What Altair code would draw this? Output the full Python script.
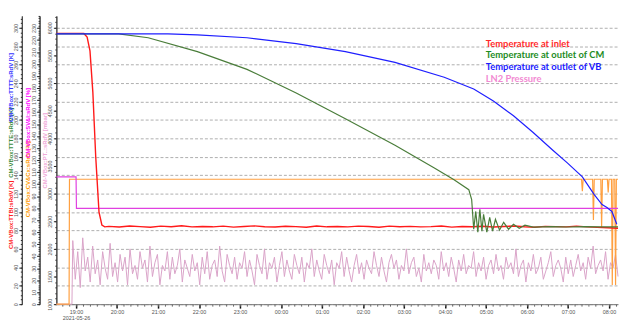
import altair as alt
import pandas as pd
import numpy as np

# time axis: hours since 2021-05-26 00:00 (24 = 00:00 next day)
X_DOMAIN = [18.52, 32.22]
hour_ticks = list(range(19, 33))

# ---- Temperature at inlet [K]
red_t = [18.52, 19.19, 19.27, 19.34, 19.41, 19.48, 19.56, 19.63, 19.70]
red_v = [294, 294, 290, 275, 230, 160, 100, 86, 84]
red_noise = [84.5, 83.8, 84.9, 84.2, 83.6, 84.7, 84.1, 85.2, 83.9, 84.4,
             84.0, 84.8, 83.7, 84.3, 85.0, 84.1, 83.8, 84.6, 84.2, 83.5,
             84.9, 84.0, 84.4, 83.9, 84.7, 84.3, 83.6, 84.8, 84.1, 84.5,
             83.9, 84.2, 84.9, 83.7, 84.4, 84.0, 84.6, 83.8, 84.3, 84.9,
             84.1, 83.6, 84.5, 84.2, 83.9, 84.7, 84.0, 83.4, 83.0, 82.5]

# ---- Temperature at outlet of CM [K]
green_t = [18.52, 20.04, 20.76, 21.96, 23.17, 24.37, 25.57, 26.78, 27.74, 28.22,
           28.58, 28.65, 28.70, 28.75, 28.80, 28.85, 28.90, 28.94, 29.02, 29.09,
           29.16, 29.23, 29.33, 29.43, 29.55, 29.67, 29.81, 29.95, 30.15, 30.6,
           31.0, 31.4, 31.8, 32.22]
green_v = [293.6, 293.6, 289.3, 274.3, 255.0, 229.3, 201.4, 172.5, 147.9, 135.0,
           124.3, 113.6, 81.4, 100.7, 78.2, 102.9, 79.3, 97.5, 78.2, 94.3,
           79.3, 92.1, 80.4, 88.9, 81.4, 86.8, 82.5, 85.7, 83.6, 84.2,
           83.8, 84.3, 83.9, 84.0]

# ---- Temperature at outlet of VB [K]
blue_t = [18.52, 21.24, 21.96, 23.17, 24.37, 25.57, 26.78, 27.98, 28.70, 29.18,
          29.67, 30.15, 30.63, 30.99, 31.35, 31.64, 31.83, 31.95, 32.07, 32.19]
blue_v = [293.6, 293.6, 292.5, 289.3, 282.9, 274.3, 262.5, 246.4, 233.6, 220.7,
          204.6, 186.4, 167.1, 153.2, 138.2, 118.9, 108.2, 105.0, 100.7, 86.8]

# ---- Valve positions [%]
orange_t = [18.52, 18.83, 18.84, 31.33, 31.35, 31.37, 31.60, 31.62, 31.64, 31.80,
            31.82, 31.84, 31.96, 31.98, 32.00, 32.06, 32.08, 32.10, 32.14, 32.16,
            32.18, 32.22]
orange_v = [0, 0, 104, 104, 94, 104, 104, 70, 104, 104,
            64, 104, 104, 93, 104, 104, 16, 104, 104, 16,
            104, 104]
magenta_t = [18.52, 19.00, 19.01, 32.22]
magenta_v = [106, 106, 79.7, 79.7]

# ---- LN2 Pressure [mbar]
pink_start_t = [18.52, 18.90]
pink_start_v = [1000, 1000]
pink_noise = [
    2150, 1450, 1950, 1300, 2200, 1600, 1850, 1400, 2050, 1550,
    1800, 1350, 1950, 1650, 1450, 2100, 1500, 1750, 1400, 1900,
    1600, 1850, 1350, 2000, 1550, 1700, 1450, 1950, 1650, 1800,
    1400, 2050, 1500, 1750, 1900, 1350, 1700, 1600, 1950, 1450,
    1850, 1550, 1700, 2000, 1400, 1800, 1650, 1500, 1900, 1600,
    1750, 1350, 1850, 1550, 1950, 1450, 1700, 1800, 1500, 2050,
    1600, 1400, 1900, 1700, 1550, 1850, 1450, 1750, 1650, 1950,
    1500, 1800, 1600, 1350, 1900, 1700, 1550, 2000, 1450, 1750,
    1650, 1850, 1400, 1700, 1950, 1500, 1800, 1600, 1450, 1900,
    1700, 1550, 1850, 1400, 1750, 1650, 2000, 1500, 1800, 1600,
    1450, 1900, 1700, 1550, 1800, 1350, 1750, 1650, 1950, 1500,
    1850, 1600, 1400, 1700, 1900, 1550, 1750, 1450, 1800, 1650,
    1550, 1950, 1700, 1500, 1850, 1600, 1400, 1750, 1900, 1650,
    1800, 1450, 1700, 1600, 2000, 1550, 1750, 1850, 1500, 1650,
    1400, 1900, 1600, 1750, 1550, 1800, 1700, 1450, 1950, 1600,
    1750, 1500, 1850, 1650, 1400, 1800, 1600, 1900, 1550, 1700,
    1650, 1950, 1500, 1750, 1600, 1850, 1450, 1700, 1800, 1550,
    1900, 1600, 1700, 1450, 1850, 1650, 1750, 1550, 2000, 1500,
    1700, 1800, 1400, 1750, 1600, 1900, 1550, 1650, 1850, 1450,
    1600, 1750, 1950, 1500, 1700, 1800, 1650, 1400, 1850, 1550,
    1800, 1500, 1700, 1900, 1600, 1750, 1450, 1850, 1650, 2050,
    1550, 1700, 1800, 1600, 1950, 1450, 1750, 1650, 1900, 1500,
]

legend_labels = ["Temperature at inlet", "Temperature at outlet of CM",
                 "Temperature at outlet of VB", "LN2 Pressure"]
legend_colors = ["#ff2a2a", "#1e8c1e", "#1a1aff", "#f28ad2"]

# ---------- tables ----------
red_df = pd.DataFrame({"t": red_t + list(np.linspace(19.8, 32.22, len(red_noise))),
                       "v": red_v + red_noise})
green_df = pd.DataFrame({"t": green_t, "v": green_v})
blue_df = pd.DataFrame({"t": blue_t, "v": blue_v})
orange_df = pd.DataFrame({"t": orange_t, "v": orange_v})
magenta_df = pd.DataFrame({"t": magenta_t, "v": magenta_v})
pink_df = pd.DataFrame({"t": pink_start_t + list(np.linspace(18.92, 32.22, len(pink_noise))),
                        "v": pink_start_v + pink_noise})
legend_df = pd.DataFrame({"label": legend_labels, "color": legend_colors})

FONT = "Liberation Sans"
xscale = alt.Scale(domain=X_DOMAIN, nice=False, zero=False)
x_main = alt.X("t:Q", scale=xscale, axis=alt.Axis(
    values=hour_ticks, title=None, grid=False,
    labelExpr="datum.value == 19 ? ['19:00', '2021-05-26'] : ((datum.value % 24) < 10 ? '0' : '') + (datum.value % 24) + ':00'",
    labelFontSize=5.5, labelColor="#555", labelFont=FONT, labelPadding=1, labelLineHeight=6.5,
    tickSize=4, tickWidth=1.5, tickColor="#111", domainColor="#777", orient="bottom"))
x_none = alt.X("t:Q", scale=xscale, axis=None)
x_minor = alt.X("t:Q", scale=xscale, axis=alt.Axis(
    values=[19 + i / 6 for i in range(-2, 80)], labels=False, title=None, grid=False,
    tickSize=2, tickColor="#666", domain=False, orient="bottom"))

K_SCALE = alt.Scale(domain=[0, 313], nice=False, zero=False)
P_SCALE = alt.Scale(domain=[0, 240], nice=False, zero=False)
M_SCALE = alt.Scale(domain=[1000, 6214], nice=False, zero=False)

def yaxis(offset, title, color, ty, tx=-13, values=None, labels=True, ticks=True, tick_size=3,
          domain=True, grid=False):
    kw = dict(orient="left", offset=offset, title=title, titleColor=color, titleFontSize=6,
              titleFont=FONT, titleFontWeight="bold", titleAngle=270, titleX=tx, titleY=ty,
              titleAlign="center", titleBaseline="middle",
              labels=labels, ticks=ticks, domain=domain, grid=grid, format="d",
              labelAngle=270, labelAlign="center", labelBaseline="bottom",
              labelFontSize=5.5, labelColor="#555", labelFont=FONT, labelPadding=0.5,
              tickSize=tick_size, tickColor="#222", tickWidth=1, domainColor="#444")
    if values is not None:
        kw["values"] = values
    if grid:
        kw.update(gridDash=[3, 2], gridColor="#9a9a9a", gridWidth=0.8)
    return alt.Axis(**kw)

red = alt.Chart(red_df).mark_line(color="#ff1a1a", strokeWidth=1.4).encode(
    x=x_main,
    y=alt.Y("v:Q", scale=K_SCALE,
            axis=yaxis(35, "CM-VBox:TTBI:sRdV [K]", "#ff2020", 201, tx=-11,
                       values=list(range(0, 301, 20)), grid=True)))
green = alt.Chart(green_df).mark_line(color="#4a7d3a", strokeWidth=1.2).encode(
    x=x_minor,
    y=alt.Y("v:Q", scale=K_SCALE,
            axis=yaxis(35, "CM-VBox:TTTE:sRdV [K]", "#3c8c3c", 128, tx=-11,
                       values=list(range(0, 313, 5)), labels=False, tick_size=1.5)))
blue = alt.Chart(blue_df).mark_line(color="#1f1fff", strokeWidth=1.2).encode(
    x=x_none,
    y=alt.Y("v:Q", scale=K_SCALE,
            axis=yaxis(35, "CM-VBox:TTTT:sRdV [K]", "#3333ff", 72, tx=-11,
                       labels=False, ticks=False, domain=False)))
orange = alt.Chart(orange_df).mark_line(color="#ffa040", strokeWidth=1.2).encode(
    x=x_none,
    y=alt.Y("v:Q", scale=P_SCALE,
            axis=yaxis(17, "CM-VBox:CV&Cx:sRdV [%]", "#ff9900", 165, tx=-12,
                       values=list(range(0, 231, 10)))))
magenta = alt.Chart(magenta_df).mark_line(color="#e040e0", strokeWidth=1.2).encode(
    x=x_none,
    y=alt.Y("v:Q", scale=P_SCALE,
            axis=yaxis(17, "CM-VBox:SV&I:sRdV [%]", "#ff00ff", 108, tx=-12,
                       values=list(range(0, 241, 2)), labels=False, tick_size=1.5)))
pink = alt.Chart(pink_df).mark_line(color="#d9a3c8", strokeWidth=1).encode(
    x=x_none,
    y=alt.Y("v:Q", scale=M_SCALE,
            axis=yaxis(0, "CM-VBox:PT..:sRdV [mbar]", "#f0a8d8", 136, tx=-12,
                       values=list(range(1000, 6001, 500)))))
pink_minor = alt.Chart(pink_df).mark_line(opacity=0).encode(
    x=x_none,
    y=alt.Y("v:Q", scale=M_SCALE,
            axis=yaxis(0, None, "#f0a8d8", 136, values=list(range(1000, 6201, 100)),
                       labels=False, tick_size=1.5)))
legend = alt.Chart(legend_df).mark_text(align="left", baseline="middle", font="Lato",
                                         fontWeight="bold", fontSize=9.5).encode(
    x=alt.value(435),
    y=alt.Y("label:N", sort=legend_labels, axis=None,
            scale=alt.Scale(type="point", range=[28, 64], padding=0)),
    color=alt.Color("color:N", scale=None),
    text="label:N")

chart = alt.layer(pink, pink_minor, orange, magenta, red, green, blue, legend).resolve_scale(
    y="independent").resolve_axis(x="independent").properties(
    width=569, height=292,
    padding={"left": 49, "top": 6, "right": 2, "bottom": 14},
    autosize=alt.AutoSizeParams(type="none"),
).configure_view(strokeWidth=0)

chart.save("out.html", embed_options={"renderer": "svg", "actions": False})
